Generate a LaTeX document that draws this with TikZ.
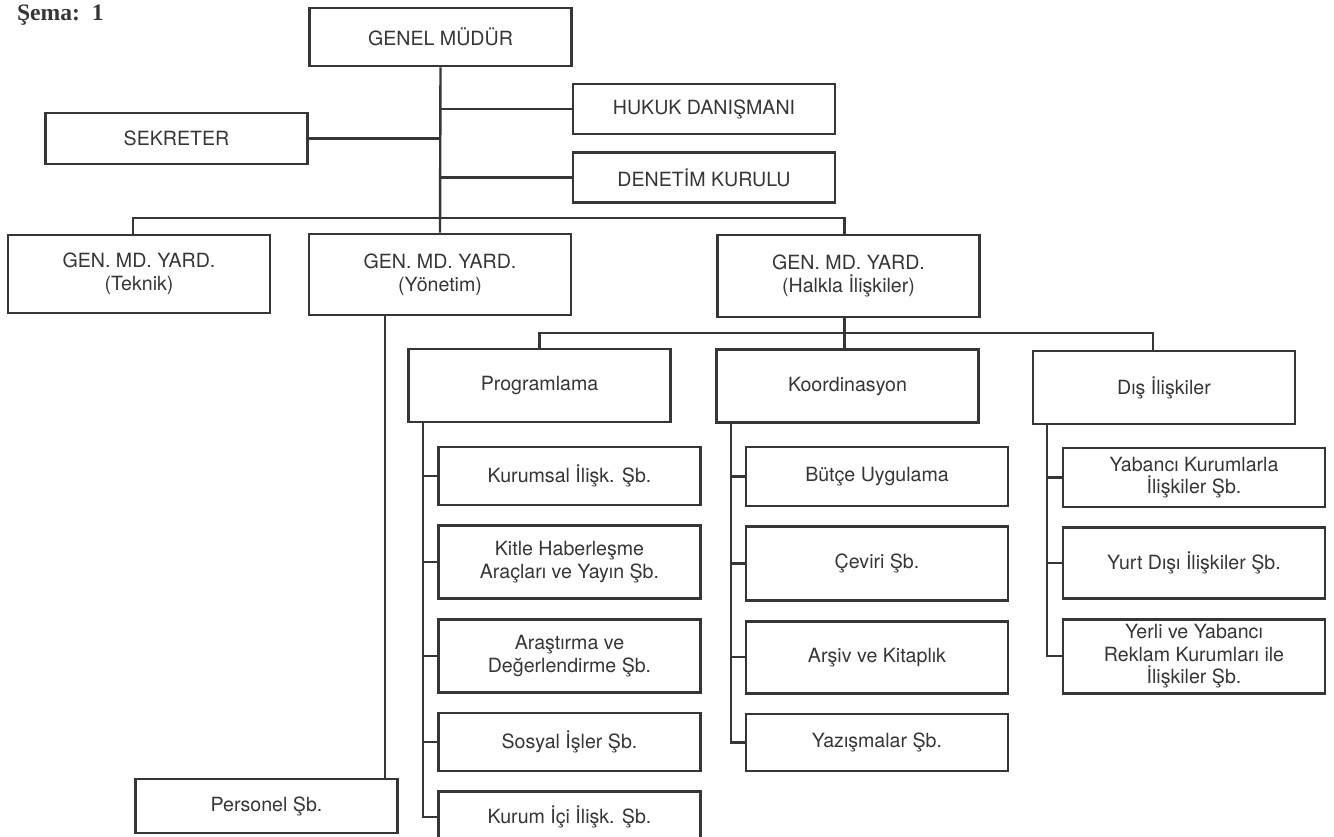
\documentclass[tikz,border=0pt]{standalone}
\usepackage{fontspec}
\setmainfont{TeX Gyre Heros}
\newfontfamily\titlefont{Liberation Serif}
\usetikzlibrary{positioning}
\definecolor{ink}{HTML}{363636}

\begin{document}
\begin{tikzpicture}[
  x=0.5pt,y=-0.5pt,
  node distance=9pt,
  box/.style={draw=ink,line width=1.3pt,text=ink,align=center,minimum width=131pt,
    minimum height=29pt,inner sep=2pt,font=\fontsize{9.8}{11.4}\selectfont},
  line/.style={draw=ink,line width=1.2pt}
]
\useasboundingbox[fill=white] (0,0) rectangle (1334,836);
\node[anchor=west,text=ink,font=\titlefont\bfseries\fontsize{11.8}{13}\selectfont]
  (title) at (10,15) {Şema:\ \ 1};
\node[box] (gm) at (440.5,37) {GENEL MÜDÜR};
\node[box,minimum height=25.5pt] (sek) at (176.5,138.5) {SEKRETER};
\node[box,minimum height=25pt] (hukuk) at (704,109) {HUKUK DANIŞMANI};
\node[box,minimum height=25pt] (denetim) at (704,177.5) {DENETİM KURULU};
\node[box,minimum height=39pt] (teknik) at (139,274) {GEN. MD. YARD.\\(Teknik)};
\node[box,minimum height=40.5pt] (yonetim) at (440,274.5) {GEN. MD. YARD.\\(Yönetim)};
\node[box,minimum height=41pt] (halkla) at (848.5,276) {GEN. MD. YARD.\\(Halkla İlişkiler)};
\node[box,minimum height=36.5pt] (prog) at (539.5,385.5) {Programlama};
\node[box,minimum height=36.5pt] (koord) at (847.5,386) {Koordinasyon};
\node[box,minimum height=36.5pt] (dis) at (1164,387.5) {Dış İlişkiler};
\node[box] (kurumsal) at (569.5,476) {Kurumsal İlişk. Şb.};
\node[box,minimum height=36.5pt,below=of kurumsal] (kitle) {Kitle Haberleşme\\Araçları ve Yayın Şb.};
\node[box,minimum height=36.5pt,below=of kitle] (arastirma) {Araştırma ve\\Değerlendirme Şb.};
\node[box,below=of arastirma] (sosyal) {Sosyal İşler Şb.};
\node[box,minimum height=25.5pt,below=of sosyal] (kurumici) {Kurum İçi İlişk. Şb.};
\node[box,minimum height=27pt] (personel) at (266.5,806) {Personel Şb.};
\node[box,minimum height=29.5pt] (butce) at (877,476.5) {Bütçe Uygulama};
\node[box,minimum height=37pt,below=of butce] (ceviri) {Çeviri Şb.};
\node[box,minimum height=36pt,below=of ceviri] (arsiv) {Arşiv ve Kitaplık};
\node[box,minimum height=28.5pt,below=of arsiv] (yazisma) {Yazışmalar Şb.};
\node[box,minimum height=29.5pt] (yabanci) at (1194,477.5) {Yabancı Kurumlarla\\İlişkiler Şb.};
\node[box,minimum height=35.5pt,below=of yabanci] (yurtdisi) {Yurt Dışı İlişkiler Şb.};
\node[box,minimum height=37pt,below=of yurtdisi] (yerli) {Yerli ve Yabancı\\Reklam Kurumları ile\\İlişkiler Şb.};
\draw[line] (gm.south) -- (yonetim.north);
\draw[line] (sek.east) -- (sek.east -| gm.south);
\draw[line] (hukuk.west) -- (hukuk.west -| gm.south);
\draw[line] (denetim.west) -- (denetim.west -| gm.south);
\draw[line] ([xshift=-3pt]teknik.north) -- ++(0,-16) -| ([xshift=-2pt]halkla.north);
\draw[line] ([xshift=-27.5pt]yonetim.south) -- ([xshift=-27.5pt]yonetim.south |- personel.north);
\draw[line] ([xshift=-2pt]halkla.south) -- ([xshift=-2pt]halkla.south |- koord.north);
\draw[line] (prog.north) -- ++(0,-15) -| ([xshift=-5.5pt]dis.north);
\coordinate (progline) at ([xshift=8pt]prog.south west);
\coordinate (koordline) at ([xshift=8pt]koord.south west);
\coordinate (disline) at ([xshift=7.5pt]dis.south west);
\draw[line] (progline) |- (kurumici.west);
\foreach \n in {kurumsal,kitle,arastirma,sosyal}
  \draw[line] (\n.west -| progline) -- (\n.west);
\draw[line] (koordline) |- (yazisma.west);
\foreach \n in {butce,ceviri,arsiv}
  \draw[line] (\n.west -| koordline) -- (\n.west);
\draw[line] (disline) |- (yerli.west);
\foreach \n in {yabanci,yurtdisi}
  \draw[line] (\n.west -| disline) -- (\n.west);
\end{tikzpicture}
\end{document}
